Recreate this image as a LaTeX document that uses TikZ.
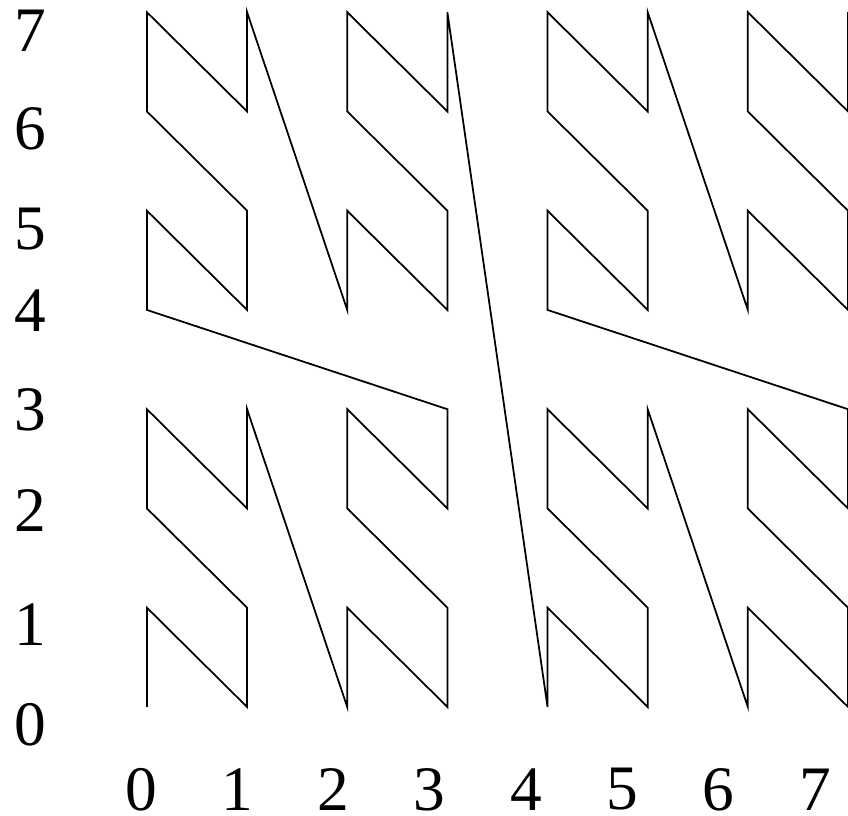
\documentclass[tikz,border=0pt]{standalone}
\usepackage{fontspec}
\setmainfont{Liberation Serif}
\usepackage{tikz}
\tikzset{
  curveline/.style={draw, line width=0.5pt, line join=miter},
  axislabel/.style={inner sep=0pt, font=\fontsize{18}{20}\selectfont}
}

\begin{document}
\begin{tikzpicture}[x=1cm, y=0.991cm]
  \useasboundingbox (-1.467,-1.098) rectangle (7,7.123);

  % N-order curve through the 8x8 grid
  \draw[curveline] (0,0)
    foreach \d [evaluate=\d as \px using {mod(int(\d/2),2)+2*mod(int(\d/8),2)+4*mod(int(\d/32),2)},
                evaluate=\d as \py using {mod(\d,2)+2*mod(int(\d/4),2)+4*mod(int(\d/16),2)}]
    in {1,...,63} { -- (\px,\py) };

  % row labels
  \foreach \lab/\ypos in {7/6.818, 6/5.821, 5/4.814, 4/3.998, 3/2.991, 2/1.984, 1/0.826, 0/-0.181}
    \node[axislabel] (row\lab) at (-1.168,\ypos) {\lab};

  % column labels
  \foreach \lab in {0,...,7}
    \node[axislabel] (col\lab) at ({0.9615*\lab-0.06},-0.83) {\lab};
\end{tikzpicture}
\end{document}
